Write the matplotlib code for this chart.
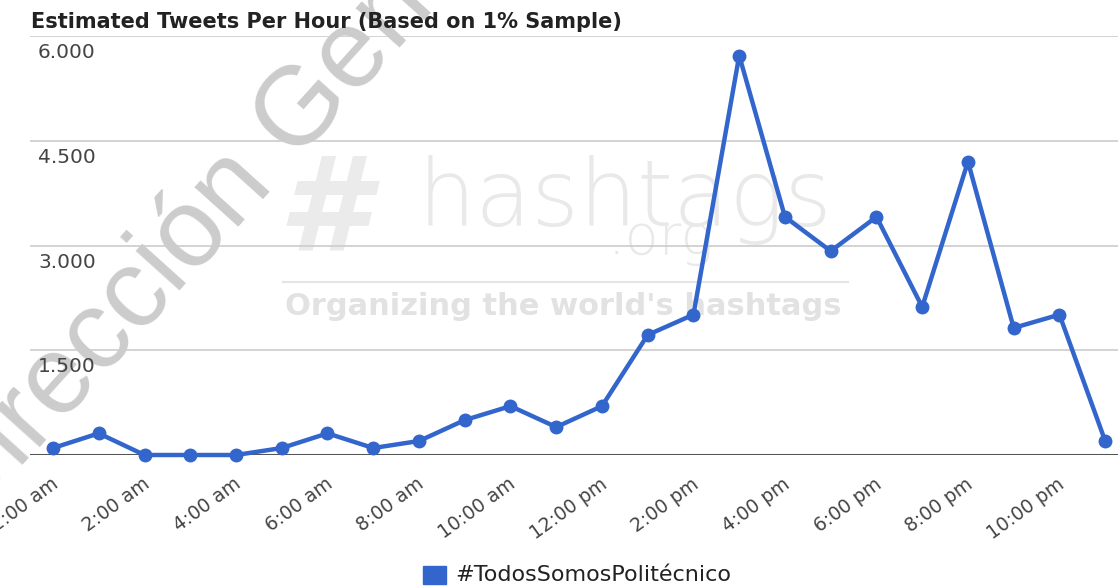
import matplotlib
matplotlib.use("Agg")
import matplotlib.pyplot as plt
from matplotlib.transforms import ScaledTranslation, blended_transform_factory
from matplotlib.patches import Rectangle
from matplotlib.lines import Line2D

# ---- data ----
hours = list(range(24))
tweets = [100, 310, 0, 0, 0, 100, 310, 100, 200, 500, 700, 400,
          700, 1720, 2010, 5720, 3410, 2920, 3410, 2120, 4200, 1820, 2010, 200]
tick_hours = [0, 2, 4, 6, 8, 10, 12, 14, 16, 18, 20, 22]
tick_labels = ["12:00 am", "2:00 am", "4:00 am", "6:00 am", "8:00 am", "10:00 am",
               "12:00 pm", "2:00 pm", "4:00 pm", "6:00 pm", "8:00 pm", "10:00 pm"]
y_ticks = [1500, 3000, 4500, 6000]
y_tick_labels = ["1.500", "3.000", "4.500", "6.000"]
series_name = "#TodosSomosPolitécnico"
title = "Estimated Tweets Per Hour (Based on 1% Sample)"

W, H = 1118, 587
fig = plt.figure(figsize=(W / 100, H / 100), dpi=100)
fig.patch.set_facecolor("white")

def fx(px):
    return px / W

def fy(py):
    return 1 - py / H

# ---- watermarks (behind) ----
fig.text(fx(-34.5), fy(530), "Dirección General", rotation=48, rotation_mode="anchor",
         ha="left", va="baseline", fontsize=80, family="Liberation Sans",
         color="#cccccc", zorder=0)
fig.text(fx(278), fy(250), "#", fontsize=94, fontweight="bold", style="oblique",
         family="DejaVu Sans", color="#ebebeb", ha="left", va="baseline", zorder=0)
fig.text(fx(418), fy(226), "hashtags", fontsize=66, fontweight=200,
         family="DejaVu Sans", color="#e9e9e9", ha="left", va="baseline", zorder=0)
fig.text(fx(608), fy(254), ".org", fontsize=40, fontweight=200,
         family="DejaVu Sans", color="#e9e9e9", ha="left", va="baseline", zorder=0)
fig.add_artist(Line2D([fx(283), fx(848)], [fy(282), fy(282)], color="#e4e4e4",
                      lw=1.5, transform=fig.transFigure, zorder=0))
fig.text(fx(285), fy(315), "Organizing the world's hashtags", fontsize=22,
         fontweight="bold", color="#e2e2e2", ha="left", va="baseline", zorder=0)

# ---- axes ----
ax = fig.add_axes([fx(30), fy(455), fx(1118) - fx(30), fy(36) - fy(455)])
ax.set_facecolor("none")
ax.set_zorder(1)
ax.set_xlim(-0.503, 23.28)
ax.set_ylim(0, 6000)
for s in ax.spines.values():
    s.set_visible(False)
ax.set_xticks([])
ax.set_yticks([])

for v in y_ticks:
    ax.axhline(v, color="#cccccc", lw=1.2, zorder=1)
ax.axhline(0, color="#555555", lw=2.2, zorder=2)

ax.plot(hours, tweets, color="#3366cc", lw=3.2, marker="o", markersize=9,
        zorder=3, clip_on=False)

# y labels inside, below gridlines
ytr = blended_transform_factory(ax.transAxes, ax.transData) + \
    ScaledTranslation(0, -16.5 / 100, fig.dpi_scale_trans)
for v, lab in zip(y_ticks, y_tick_labels):
    ax.text(8 / 1088, v, lab, transform=ytr, ha="left", va="center",
            fontsize=14.5, color="#444444")

# x labels rotated
xtr = blended_transform_factory(ax.transData, ax.transAxes) + \
    ScaledTranslation(3 / 100, -27 / 100, fig.dpi_scale_trans)
for h, lab in zip(tick_hours, tick_labels):
    ax.text(h, 0, lab, transform=xtr, rotation=36, rotation_mode="anchor",
            ha="right", va="center", fontsize=13.5, color="#444444")

# title
fig.text(fx(31), fy(22), title, ha="left", va="center", fontsize=15,
         fontweight="bold", color="#222222")

# legend
fig.add_artist(Rectangle((fx(423), fy(584)), fx(446) - fx(423), fy(566) - fy(584),
                         transform=fig.transFigure, color="#3366cc"))
fig.text(fx(455), fy(575), series_name, ha="left", va="center", fontsize=16,
         color="#222222")

fig.savefig("out.png", dpi=100)
